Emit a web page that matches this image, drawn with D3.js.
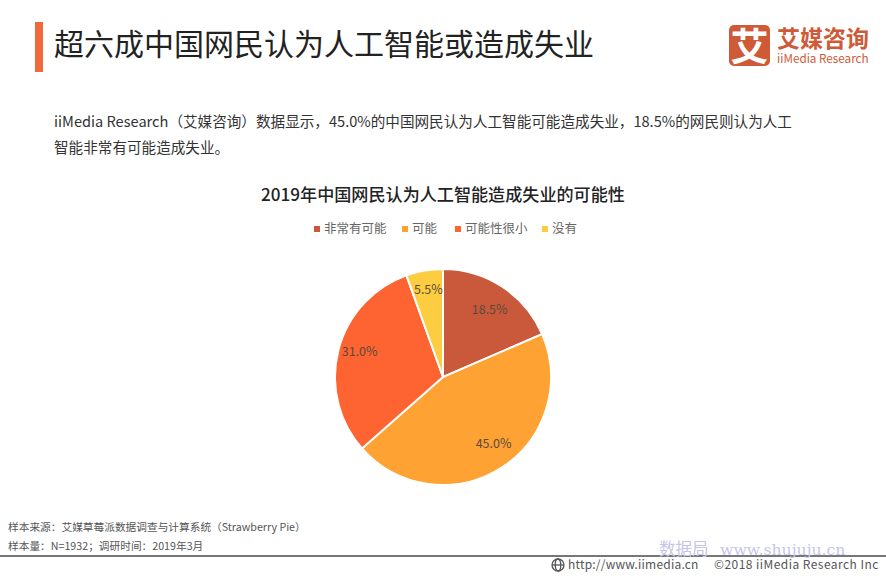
<!DOCTYPE html>
<html>
<head>
<meta charset="utf-8">
<script src="https://d3js.org/d3.v7.min.js"></script>
<style>
body{margin:0;background:#fff}
svg{display:block}
text{font-family:"Noto Sans CJK SC","Noto Sans",sans-serif}
</style>
</head>
<body>
<div id="w"></div>
<script>
var categories = ["非常有可能","可能","可能性很小","没有"]
var values = [18.5,45.0,31.0,5.5]
var labels = ["18.5%","45.0%","31.0%","5.5%"]
var colors = ["#c9593a","#ffa234","#fd6431","#fdcd41"]
var bodyLines = [
  "iiMedia Research（艾媒咨询）数据显示，45.0%的中国网民认为人工智能可能造成失业，18.5%的网民则认为人工",
  "智能非常有可能造成失业。"
]
var noteLines = ["样本来源：艾媒草莓派数据调查与计算系统（Strawberry Pie）","样本量：N=1932；调研时间：2019年3月"]

var svg = d3.select("#w").append("svg").attr("width",886).attr("height",576)

// header
svg.append("rect").attr("x",35).attr("y",22).attr("width",8).attr("height",50).attr("fill","#f0693a")
svg.append("text").attr("x",54).attr("y",55).attr("font-size",30).attr("fill","#222").text("超六成中国网民认为人工智能或造成失业")

// logo
svg.append("rect").attr("x",729).attr("y",25).attr("width",41).attr("height",41).attr("rx",5).attr("fill","#cf5a38")
svg.append("text").attr("x",749.5).attr("y",60).attr("text-anchor","middle").attr("font-size",38).attr("font-weight",700).attr("fill","#fff").text("艾")
svg.append("text").attr("x",777).attr("y",47).attr("font-size",23).attr("font-weight",700).attr("fill","#cf5a38").text("艾媒咨询")
svg.append("text").attr("x",777).attr("y",63).attr("font-size",11.7).attr("fill","#cf5a38").text("iiMedia Research")

// intro text
svg.selectAll(".body").data(bodyLines).enter().append("text")
  .attr("x",54).attr("y",function(d,i){return 127+i*26})
  .attr("font-size",14.6).attr("fill","#333").text(function(d){return d})

// chart title
svg.append("text").attr("x",443).attr("y",201).attr("text-anchor","middle")
  .attr("font-size",17.1).attr("font-weight",500).attr("fill","#222").text("2019年中国网民认为人工智能造成失业的可能性")

// legend
var legendX = [314,402,455,542]
var legend = svg.selectAll(".lg").data(categories).enter().append("g")
  .attr("transform",function(d,i){return "translate("+legendX[i]+",225)"})
legend.append("rect").attr("width",6).attr("height",6).attr("y",1).attr("fill",function(d,i){return colors[i]})
legend.append("text").attr("x",10).attr("y",8).attr("font-size",12.5).attr("fill","#666").text(function(d){return d})

// pie
var pie = d3.pie().sort(null)
var arc = d3.arc().innerRadius(0).outerRadius(108)
var g = svg.append("g").attr("transform","translate(443,377)")
var arcs = pie(values)
g.selectAll("path").data(arcs).enter().append("path")
  .attr("d",arc).attr("fill",function(d,i){return colors[i]})
  .attr("stroke","#fff").attr("stroke-width",2)
var labelArc = d3.arc().innerRadius(85).outerRadius(85)
// the labels sit a little off the centroid in the original
var nudge = [[0,4],[5,-5],[-1,-4],[0,-4]]
g.selectAll(".pl").data(arcs).enter().append("text")
  .attr("transform",function(d,i){
    var c = labelArc.centroid(d)
    return "translate("+(c[0]+nudge[i][0])+","+(c[1]+nudge[i][1])+")"
  })
  .attr("text-anchor","middle").attr("dy","0.35em")
  .attr("font-size",12.5).attr("fill","#5a4a3a").text(function(d,i){return labels[i]})

// footer
svg.selectAll(".note").data(noteLines).enter().append("text")
  .attr("x",8).attr("y",function(d,i){return 531+i*19})
  .attr("font-size",10.7).attr("fill","#555").text(function(d){return d})
svg.append("rect").attr("x",0).attr("y",555).attr("width",886).attr("height",2).attr("fill","#777")
var globe = svg.append("g").attr("transform","translate(558,565)").attr("fill","none").attr("stroke","#555").attr("stroke-width",1.3)
globe.append("circle").attr("r",6)
globe.append("ellipse").attr("rx",2.8).attr("ry",6)
globe.append("path").attr("d","M-6,0H6")
svg.append("text").attr("x",568).attr("y",569).attr("font-size",12).attr("letter-spacing",0.2).attr("fill","#555").text("http://www.iimedia.cn")
svg.append("text").attr("x",714).attr("y",569).attr("font-size",12).attr("letter-spacing",0.45).attr("fill","#555").text("©2018  iiMedia Research  Inc")
svg.append("text").attr("x",659).attr("y",555).attr("font-size",16.5).attr("fill","#c5c5e8").text("数据局")
svg.append("text").attr("x",720).attr("y",555).style("font-family","'DejaVu Serif'").attr("font-size",15.7).attr("fill","#c5c5e8").text("www.shujuju.cn")
</script>
</body>
</html>
